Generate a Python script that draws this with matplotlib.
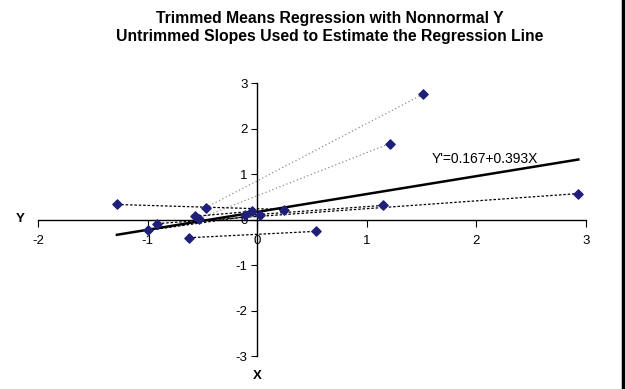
import numpy as np
import matplotlib
matplotlib.use("Agg")
import matplotlib.pyplot as plt
from matplotlib.lines import Line2D

plt.rcParams['font.family'] = ['Liberation Sans', 'DejaVu Sans']
plt.rcParams['axes.unicode_minus'] = False

# data points
x_pts = [-1.28, -1.00, -0.91, -0.62, -0.57, -0.53, -0.47, -0.11,
         -0.05, 0.03, 0.24, 0.54, 1.15, 1.21, 1.51, 2.93]
y_pts = [0.33, -0.24, -0.09, -0.40, 0.07, 0.02, 0.26, 0.09,
         0.18, 0.11, 0.22, -0.26, 0.31, 1.67, 2.75, 0.57]

# pairs of points joined by the untrimmed slope lines (index into the lists)
pairs_grey = [(6, 14), (5, 13)]
pairs_black = [(0, 10), (3, 11), (2, 15), (7, 12), (1, 9), (4, 8)]

intercept = 0.167
slope = 0.393
eq_label = "Y'=0.167+0.393X"

fig = plt.figure(figsize=(6.25, 3.89), dpi=100)
ax = fig.add_axes([38 / 625, 0.0848, 548 / 625, 0.7018])

for i, j in pairs_grey:
    ax.plot([x_pts[i], x_pts[j]], [y_pts[i], y_pts[j]], color="#8c8c8c",
            lw=0.9, ls=(0, (1, 2)), zorder=2)
for i, j in pairs_black:
    ax.plot([x_pts[i], x_pts[j]], [y_pts[i], y_pts[j]], color="black",
            lw=0.9, ls=(0, (2, 1.5)), zorder=2)

# regression line over the range of the data
xr = np.array([min(x_pts), max(x_pts)])
ax.plot(xr, intercept + slope * xr, color="black", lw=1.8, zorder=3)

ax.scatter(x_pts, y_pts, marker="D", s=22, color="#1f1f7a", zorder=4)

ax.text(1.595, 1.24, eq_label, fontsize=10, ha="left", va="baseline")

ax.set_xlim(-2, 3)
ax.set_ylim(-3, 3)
ax.spines['left'].set_position(('data', 0))
ax.spines['bottom'].set_position(('data', 0))
ax.spines['right'].set_visible(False)
ax.spines['top'].set_visible(False)
ax.spines['left'].set_linewidth(1.0)
ax.spines['bottom'].set_linewidth(1.0)
ax.set_xticks([-2, -1, 0, 1, 2, 3])
ax.set_yticks([-3, -2, -1, 0, 1, 2, 3])
ax.tick_params(axis='x', direction='out', length=5, labelsize=9.5, pad=6)
ax.tick_params(axis='y', direction='out', length=4, labelsize=9.5, pad=3)

fig.text(20 / 625, 1 - 219 / 389, "Y", fontsize=9.5, fontweight="bold",
         ha="center", va="center")
fig.text(257 / 625, 1 - 376 / 389, "X", fontsize=9.5, fontweight="bold",
         ha="center", va="center")
fig.text(330 / 625, 1 - 18 / 389, "Trimmed Means Regression with Nonnormal Y",
         fontsize=11.3, fontweight="bold", ha="center", va="center")
fig.text(330 / 625, 1 - 37 / 389,
         "Untrimmed Slopes Used to Estimate the Regression Line",
         fontsize=11.3, fontweight="bold", ha="center", va="center")

# border on the right edge of the chart
fig.add_artist(Line2D([0.9975, 0.9975], [0, 1], color="black", lw=2.5,
                      transform=fig.transFigure))

fig.savefig("out.png", dpi=100)
